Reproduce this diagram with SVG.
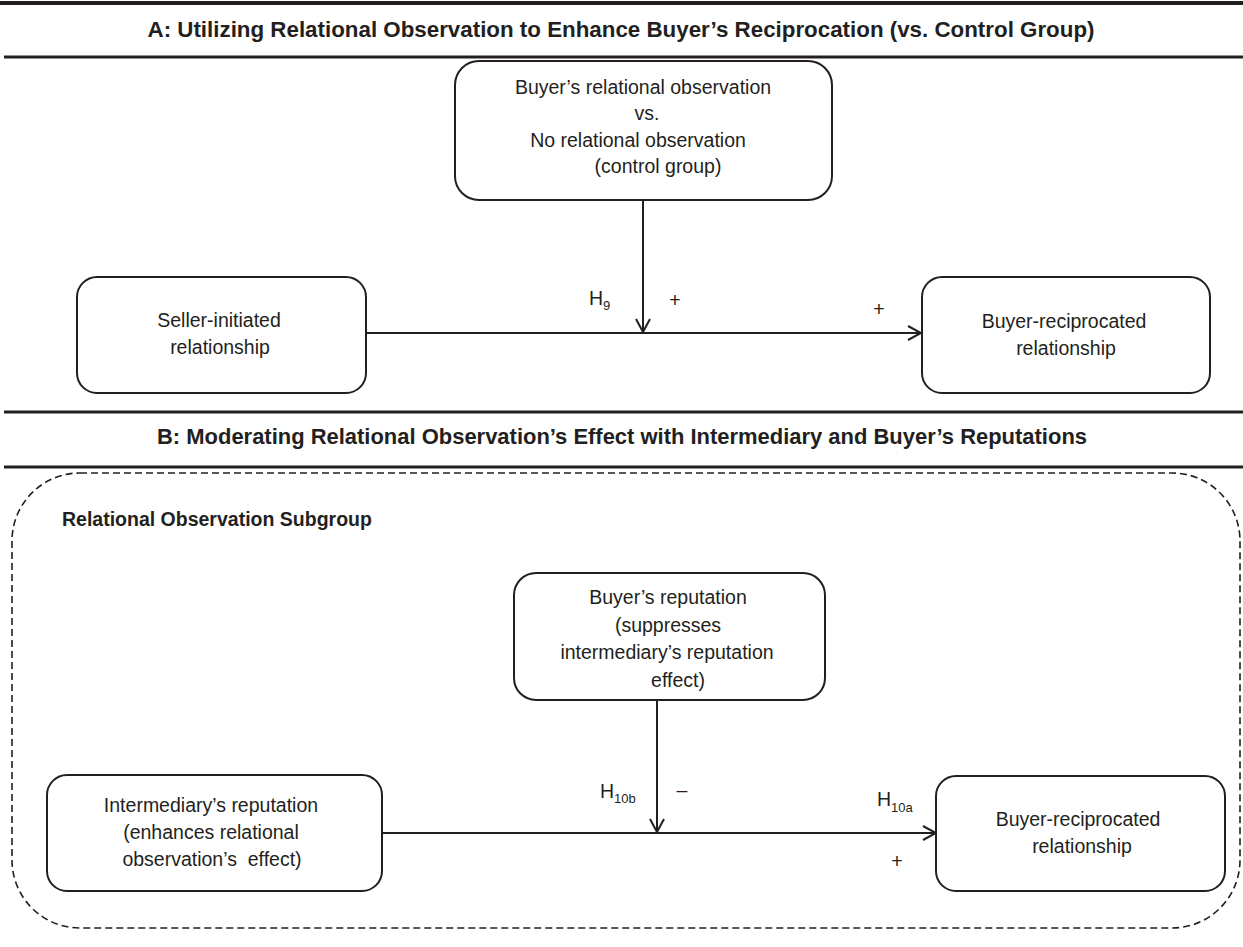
<svg xmlns="http://www.w3.org/2000/svg" width="1243" height="947" viewBox="0 0 1243 947">
<style>
.bg{fill:#ffffff}
.rule{stroke:#231f20;stroke-width:3;fill:none}
.box{fill:#ffffff;stroke:#231f20;stroke-width:2}
.t{font-family:"Liberation Sans",Arial,Helvetica,sans-serif;font-size:19.5px;fill:#231f20;text-anchor:middle}
.tl{font-family:"Liberation Sans",Arial,Helvetica,sans-serif;font-size:19.5px;fill:#231f20}
.sub{font-size:13px}
.title{font-family:"Liberation Sans",Arial,Helvetica,sans-serif;font-size:22px;font-weight:bold;fill:#231f20;text-anchor:middle}
.grp{font-family:"Liberation Sans",Arial,Helvetica,sans-serif;font-size:19.5px;font-weight:bold;fill:#231f20}
.edge{stroke:#231f20;stroke-width:2;fill:none}
.dash{stroke:#231f20;stroke-width:1.6;fill:none;stroke-dasharray:7 4}
</style>
<defs>
<marker id="arr" markerWidth="16" markerHeight="18" refX="14" refY="8" orient="auto" markerUnits="userSpaceOnUse">
<path d="M1,1 L14,8 L1,15" fill="none" stroke="#231f20" stroke-width="2"/>
</marker>
</defs>
<rect class="bg" x="0" y="0" width="1243" height="947"/>

<g id="headers">
<line class="rule" x1="0" y1="3" x2="1243" y2="3" style="stroke-width:4"/>
<text class="title" x="621" y="37" textLength="947" lengthAdjust="spacingAndGlyphs">A: Utilizing Relational Observation to Enhance Buyer’s Reciprocation (vs. Control Group)</text>
<line class="rule" x1="4" y1="57" x2="1243" y2="57"/>
<line class="rule" x1="4" y1="412" x2="1243" y2="412"/>
<text class="title" x="622" y="444" textLength="930" lengthAdjust="spacingAndGlyphs">B: Moderating Relational Observation’s Effect with Intermediary and Buyer’s Reputations</text>
<line class="rule" x1="4" y1="467" x2="1243" y2="467"/>
</g>

<g id="subgroup">
<rect class="dash" x="12" y="473" width="1228" height="455" rx="68" ry="68"/>
<text class="grp" x="62" y="526">Relational Observation Subgroup</text>
</g>

<g id="connectors">
<line class="edge" x1="643" y1="200" x2="643" y2="332" marker-end="url(#arr)"/>
<line class="edge" x1="366" y1="333" x2="921" y2="333" marker-end="url(#arr)"/>
<line class="edge" x1="657" y1="700" x2="657" y2="832" marker-end="url(#arr)"/>
<line class="edge" x1="382" y1="833" x2="936" y2="833" marker-end="url(#arr)"/>
<text class="tl" x="589" y="305">H<tspan class="sub" dy="5">9</tspan></text>
<text class="t" x="675" y="307">+</text>
<text class="t" x="879" y="316">+</text>
<text class="tl" x="600" y="798">H<tspan class="sub" dy="5">10b</tspan></text>
<text class="t" x="682" y="797">–</text>
<text class="tl" x="877" y="806">H<tspan class="sub" dy="6">10a</tspan></text>
<text class="t" x="897" y="868">+</text>
</g>

<g id="node-observation">
<rect class="box" x="455" y="61" width="377" height="139" rx="24" ry="24"/>
<text class="t" x="643" y="94">Buyer’s relational observation</text>
<text class="t" x="647" y="120">vs.</text>
<text class="t" x="638" y="147">No relational observation</text>
<text class="t" x="658" y="173">(control group)</text>
</g>

<g id="node-seller">
<rect class="box" x="77" y="277" width="289" height="116" rx="20" ry="20"/>
<text class="t" x="219" y="327">Seller-initiated</text>
<text class="t" x="220" y="354">relationship</text>
</g>

<g id="node-buyer-a">
<rect class="box" x="922" y="277" width="288" height="116" rx="20" ry="20"/>
<text class="t" x="1064" y="328">Buyer-reciprocated</text>
<text class="t" x="1066" y="355">relationship</text>
</g>

<g id="node-buyer-reputation">
<rect class="box" x="514" y="573" width="311" height="127" rx="22" ry="22"/>
<text class="t" x="668" y="604">Buyer’s reputation</text>
<text class="t" x="668" y="632">(suppresses</text>
<text class="t" x="667" y="659">intermediary’s reputation</text>
<text class="t" x="678" y="687">effect)</text>
</g>

<g id="node-intermediary">
<rect class="box" x="47" y="775" width="335" height="116" rx="20" ry="20"/>
<text class="t" x="211" y="812">Intermediary’s reputation</text>
<text class="t" x="211" y="839">(enhances relational</text>
<text class="t" x="212" y="866" style="white-space:pre">observation’s  effect)</text>
</g>

<g id="node-buyer-b">
<rect class="box" x="936" y="776" width="289" height="115" rx="20" ry="20"/>
<text class="t" x="1078" y="826">Buyer-reciprocated</text>
<text class="t" x="1082" y="853">relationship</text>
</g>
</svg>
